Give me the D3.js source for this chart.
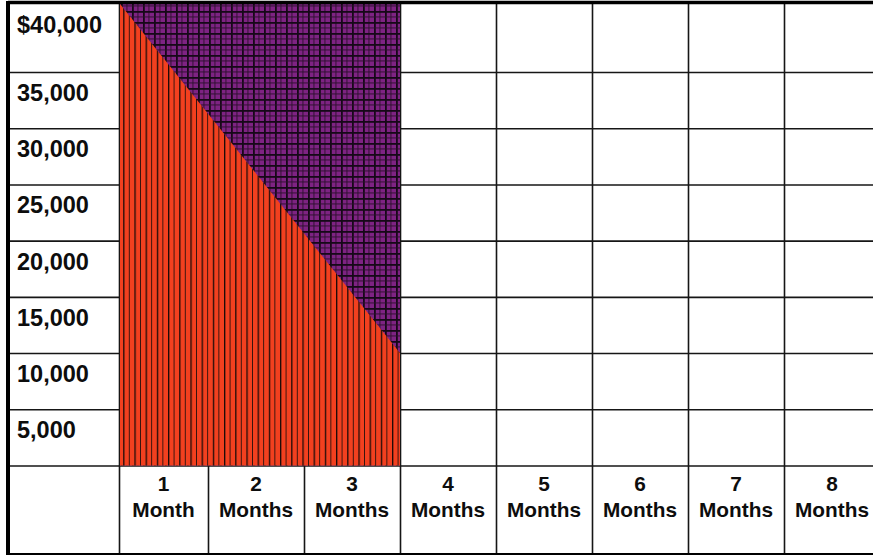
<!DOCTYPE html>
<html>
<head>
<meta charset="utf-8">
<script src="https://cdn.jsdelivr.net/npm/d3@7/dist/d3.min.js"></script>
<style>
  html, body { margin: 0; padding: 0; background: #fff; }
  svg { display: block; }
  text { font-family: "Liberation Sans", Arial, sans-serif; font-weight: bold; fill: #0d0d0d; }
</style>
</head>
<body>
<svg id="chart" width="873" height="556"></svg>
<script>
// Loan balance paid down over the months
const months = [1, 2, 3, 4, 5, 6, 7, 8];
const monthWords = ["Month", "Months", "Months", "Months", "Months", "Months", "Months", "Months"];
const valueTicks = [40000, 35000, 30000, 25000, 20000, 15000, 10000, 5000];
const valueLabels = ["$40,000", "35,000", "30,000", "25,000", "20,000", "15,000", "10,000", "5,000"];
const balanceMonths = [0, 3];
const balanceValues = [40000, 10000];

const svg = d3.select("#chart");
const W = 873, H = 556;
const left = 8, labelRight = 119, bottom = 554;

// Column edges: first month column is a bit narrower than the rest
const x = d3.scaleLinear().domain([0, 1, 8]).range([labelRight, 208, 880]);
// Top row is taller than the others
const y = d3.scaleLinear().domain([0, 35000, 40000]).range([465.5, 72, 4]);

const defs = svg.append("defs");
// vertical black pinstripes on red
const stripes = defs.append("pattern").attr("id", "stripes")
  .attr("patternUnits", "userSpaceOnUse").attr("width", 11.2).attr("height", 10);
stripes.append("rect").attr("width", 11.2).attr("height", 10).attr("fill", "#f2401f");
stripes.append("rect").attr("x", 0).attr("width", 1.3).attr("height", 10).attr("fill", "#1a0b08");
stripes.append("rect").attr("x", 5.6).attr("width", 0.9).attr("height", 10).attr("fill", "#2a110c");

// black plaid on purple
const plaid = defs.append("pattern").attr("id", "plaid")
  .attr("patternUnits", "userSpaceOnUse").attr("width", 11).attr("height", 11);
plaid.append("rect").attr("width", 11).attr("height", 11).attr("fill", "#7e2383");
plaid.append("rect").attr("x", 0).attr("width", 1.8).attr("height", 11).attr("fill", "#160818");
plaid.append("rect").attr("x", 5.5).attr("width", 0.9).attr("height", 11).attr("fill", "#2a0e2c");
plaid.append("rect").attr("y", 0).attr("height", 1.8).attr("width", 11).attr("fill", "#160818");
plaid.append("rect").attr("y", 5.5).attr("height", 0.9).attr("width", 11).attr("fill", "#2a0e2c");

svg.append("rect").attr("width", W).attr("height", H).attr("fill", "#fff");

// Row lines
const rows = svg.append("g")
  .attr("transform", `translate(${W},0)`)
  .call(d3.axisLeft(y).tickValues([35000, 30000, 25000, 20000, 15000, 10000, 5000, 0])
    .tickSize(W - left).tickFormat(""));
rows.select(".domain").remove();
rows.selectAll(".tick line").attr("stroke", "#161616").attr("stroke-width", 1.6);

// Column lines
const cols = svg.append("g")
  .attr("transform", `translate(0,${bottom})`)
  .call(d3.axisTop(x).tickValues([0, 1, 2, 3, 4, 5, 6, 7]).tickSize(bottom - 4).tickFormat(""));
cols.select(".domain").remove();
cols.selectAll(".tick line").attr("stroke", "#161616").attr("stroke-width", 1.6);

// Remaining balance region (plaid) and paid-down region (stripes)
svg.append("rect")
  .attr("x", x(balanceMonths[0]) + 1)
  .attr("y", y(balanceValues[0]))
  .attr("width", x(balanceMonths[1]) - x(balanceMonths[0]) - 1)
  .attr("height", y(0) - y(balanceValues[0]))
  .attr("fill", "url(#plaid)");

const pts = balanceMonths.map((m, i) => ({ m, v: balanceValues[i] }));
svg.append("path")
  .datum(pts)
  .attr("d", d3.area().x(d => x(d.m) + (d.m === 0 ? 1 : 0)).y0(y(0)).y1(d => y(d.v)))
  .attr("fill", "url(#stripes)");

// Value labels
svg.append("g").selectAll("text").data(valueTicks).join("text")
  .attr("x", 17)
  .attr("y", d => y(d) + 29)
  .attr("font-size", 23.5)
  .text((d, i) => valueLabels[i]);

// Month labels
const ml = svg.append("g").selectAll("g").data(months).join("g")
  .attr("transform", d => `translate(${(x(d - 1) + x(d)) / 2},0)`);
ml.append("text").attr("text-anchor", "middle").attr("y", y(0) + 25.5)
  .attr("font-size", 20.8).text(d => d);
ml.append("text").attr("text-anchor", "middle").attr("y", y(0) + 51.5)
  .attr("font-size", 20.8).text((d, i) => monthWords[i]);

// Outer frame
svg.append("line").attr("x1", left).attr("x2", W).attr("y1", 2.5).attr("y2", 2.5)
  .attr("stroke", "#000").attr("stroke-width", 3.5);
svg.append("line").attr("x1", left).attr("x2", left).attr("y1", 1).attr("y2", 555)
  .attr("stroke", "#000").attr("stroke-width", 4);
svg.append("line").attr("x1", left).attr("x2", W).attr("y1", 554).attr("y2", 554)
  .attr("stroke", "#000").attr("stroke-width", 2);
</script>
</body>
</html>
